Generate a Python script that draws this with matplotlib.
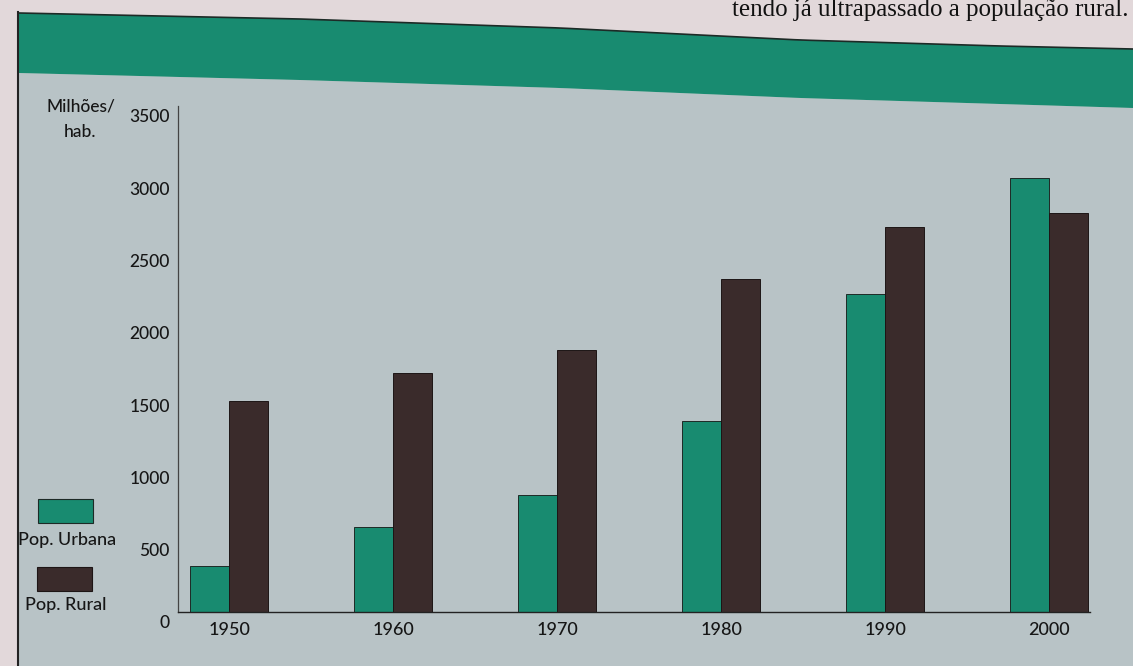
import numpy as np
import matplotlib.pyplot as plt
from matplotlib.patches import Rectangle, Polygon
from matplotlib.transforms import ScaledTranslation

# População mundial urbana e rural (milhões de habitantes)
anos = ['1950', '1960', '1970', '1980', '1990', '2000']
urbana = [320, 590, 810, 1320, 2200, 3000]
rural = [1460, 1650, 1810, 2300, 2660, 2760]
yticks = [0, 500, 1000, 1500, 2000, 2500, 3000, 3500]

verde = '#188b70'
castanho = '#3a2b2b'
painel = '#b8c3c6'
papel = '#e2d8da'
tinta = '#161616'

plt.rcParams['font.family'] = ['Lato', 'DejaVu Sans']

W, H = 1133, 666
fig = plt.figure(figsize=(W / 100, H / 100), dpi=100)
fig.patch.set_facecolor(papel)

# fundo da página em coordenadas de pixel
bg = fig.add_axes([0, 0, 1, 1])
bg.set_xlim(0, W)
bg.set_ylim(H, 0)
bg.axis('off')

bx = np.linspace(19, W, 80)
top = np.interp(bx, [19, 300, 560, 800, 1000, W], [13, 19, 28, 40, 46, 49])
bot = np.interp(bx, [19, 300, 560, 800, 1000, W], [73, 80, 88, 98, 104, 108])
bg.add_patch(Polygon(np.column_stack([np.r_[bx, bx[::-1]], np.r_[bot, np.full(len(bx), H + 5)]]),
                     closed=True, facecolor=painel, edgecolor='none'))
bg.add_patch(Polygon(np.column_stack([np.r_[bx, bx[::-1]], np.r_[top, bot[::-1]]]),
                     closed=True, facecolor=verde, edgecolor='none'))
bg.plot(bx, top, color='#1d2a26', lw=1.2)
bg.plot([18, 18], [12, H], color='#222222', lw=1.5)

bg.text(1128, 16, 'tendo já ultrapassado a população rural.', ha='right', va='baseline',
        fontsize=18, family=['Liberation Serif', 'DejaVu Serif'], color='#111111')

bg.text(81, 106, 'Milhões/', ha='center', va='center', fontsize=12.5,
        fontweight='medium', color=tinta)
bg.text(80, 132, 'hab.', ha='center', va='center', fontsize=12.5,
        fontweight='medium', color=tinta)

# legenda
bg.add_patch(Rectangle((38, 499), 55, 24, facecolor=verde, edgecolor='#1d2a26', lw=0.8))
bg.text(67, 540, 'Pop. Urbana', ha='center', va='center', fontsize=13,
        fontweight='medium', color=tinta)
bg.add_patch(Rectangle((37, 567), 55, 24, facecolor=castanho, edgecolor='#1d1515', lw=0.8))
bg.text(66, 605, 'Pop. Rural', ha='center', va='center', fontsize=13,
        fontweight='medium', color=tinta)

# gráfico de barras
px_left, px_base, px_top = 178, 612, 106
ax = fig.add_axes([px_left / W, (H - px_base) / H, (W - px_left) / W, (px_base - px_top) / H])
ax.set_facecolor('none')

sp = 164.0
x0 = (229 - px_left) / sp
x = np.arange(len(anos))
larg = 39 / sp
ax.bar(x - larg / 2, urbana, larg, color=verde, edgecolor='#1d2a26', lw=0.7)
ax.bar(x + larg / 2, rural, larg, color=castanho, edgecolor='#1d1515', lw=0.7)

ax.set_xlim(-x0, -x0 + (W - px_left) / sp)
ax.set_ylim(0, (px_base - px_top) / 0.145)

for s in ['top', 'right']:
    ax.spines[s].set_visible(False)
ax.spines['left'].set_color('#444444')
ax.spines['left'].set_linewidth(0.9)
ax.spines['bottom'].set_color('#222222')
ax.spines['bottom'].set_linewidth(1.0)
ax.spines['bottom'].set_bounds(-x0, (1090 - px_left) / sp - x0)

ax.set_xticks(x)
ax.set_xticklabels(anos, fontsize=13, fontweight='medium', color=tinta)
ax.set_yticks(yticks)
ax.set_yticklabels([str(v) for v in yticks], fontsize=12.5, fontweight='medium', color=tinta)
ax.tick_params(length=0)
ax.tick_params(axis='y', pad=6)
ax.tick_params(axis='x', pad=7)
for lab in ax.get_yticklabels():
    lab.set_transform(lab.get_transform() + ScaledTranslation(0, -10 / 100, fig.dpi_scale_trans))

fig.savefig('out.png', dpi=100, facecolor=fig.get_facecolor())
